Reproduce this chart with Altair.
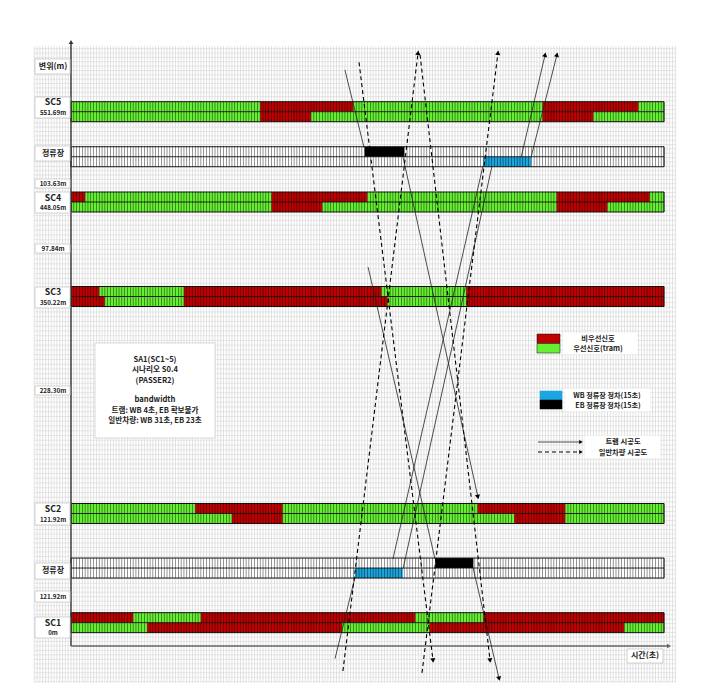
import math
import altair as alt
import pandas as pd

# ---------------- data ----------------
SIGNALS = ["SC1", "SC2", "SC3", "SC4", "SC5"]
SIGNAL_POS = [0.0, 121.92, 350.22, 448.05, 551.69]            # displacement (m)
SIGNAL_POS_LABEL = ["0m", "121.92m", "350.22m", "448.05m", "551.69m"]
STOP_POS = [61.0, 500.0]                                      # 정류장 positions (m)
GAP_LABELS = ["103.63m", "97.84m", "228.30m", "121.92m"]
T_END = 210                                                   # seconds shown

# signal phases (start s, end s, state) ; R = 비우선신호, G = 우선신호(tram)
SC1_UP = [(0, 22, "R"), (22, 46, "G"), (46, 122, "R"), (122, 146, "G"), (146, 210, "R")]
SC1_LO = [(0, 27, "G"), (27, 96, "R"), (96, 127, "G"), (127, 196, "R"), (196, 210, "G")]
SC2_UP = [(0, 44, "G"), (44, 75, "R"), (75, 144, "G"), (144, 175, "R"), (175, 210, "G")]
SC2_LO = [(0, 57, "G"), (57, 75, "R"), (75, 157, "G"), (157, 175, "R"), (175, 210, "G")]
SC3_UP = [(0, 10, "R"), (10, 40, "G"), (40, 110, "R"), (110, 140, "G"), (140, 210, "R")]
SC3_LO = [(0, 12, "R"), (12, 40, "G"), (40, 112, "R"), (112, 140, "G"), (140, 210, "R")]
SC4_UP = [(0, 5, "R"), (5, 71, "G"), (71, 105, "R"), (105, 172, "G"), (172, 205, "R"), (205, 210, "G")]
SC4_LO = [(0, 71, "G"), (71, 89, "R"), (89, 172, "G"), (172, 190, "R"), (190, 210, "G")]
SC5_UP = [(0, 67, "G"), (67, 100, "R"), (100, 167, "G"), (167, 201, "R"), (201, 210, "G")]
SC5_LO = [(0, 67, "G"), (67, 85, "R"), (85, 167, "G"), (167, 185, "R"), (185, 210, "G")]
PHASES_UP = [SC1_UP, SC2_UP, SC3_UP, SC4_UP, SC5_UP]
PHASES_LO = [SC1_LO, SC2_LO, SC3_LO, SC4_LO, SC5_LO]

# stop dwell (start s, end s, stop position m)
EB_DWELL = [(104, 118, 500.0), (129, 142.5, 61.0)]
WB_DWELL = [(146, 163, 500.0), (100.5, 117.5, 61.0)]

# trajectories: list of segments of (time s, displacement m); flag = arrow at end
TRAM_SEGS = [
    ([(97.0, 599.7), (103.8, 510.2)], False),
    ([(117.6, 499.3), (144.1, 139.3)], True),
    ([(105.2, 380.8), (128.9, 71.1)], False),
    ([(142.4, 61.0), (151.6, -62.6)], True),
    ([(93.5, -40.1), (100.6, 50.8)], False),
    ([(114.0, 71.1), (145.9, 489.5)], False),
    ([(159.4, 499.3), (167.9, 617.1)], True),
    ([(117.6, 60.4), (149.1, 489.5)], False),
    ([(162.9, 499.3), (172.1, 617.1)], True),
]
CAR_SEGS = [
    ([(102.0, 608.4), (128.2, -42.2)], True),
    ([(123.6, 617.1), (148.4, -42.2)], True),
    ([(96.3, -54.0), (122.9, 619.3)], True),
    ([(124.3, -56.1), (151.2, 619.3)], True),
]

INFO_LINES = ["SA1(SC1~5)", "시나리오 S0.4", "(PASSER2)", "", "bandwidth",
              "트램: WB 4초, EB 확보불가", "일반차량: WB 31초, EB 23초"]

# ---------------- style / layout ----------------
FONT = "Noto Sans CJK KR"
RED, GREEN, BLUE, BLACK = "#C00000", "#66F033", "#1AA7E0", "#000000"
X = alt.Scale(domain=[0, T_END], range=[71, 664], nice=False, zero=False)
Y = alt.Scale(domain=SIGNAL_POS, range=[627.5, 513.5, 296.5, 202, 107], nice=False, zero=False)
SX, SY = 593 / T_END, 0.94
ONE = alt.Data(values=[{}])


def xq(f):
    return alt.X(f, type="quantitative", scale=X, axis=None)


def yq(f):
    return alt.Y(f, type="quantitative", scale=Y, axis=None)


layers = []

# graph-paper background
gv = pd.DataFrame({"t": list(range(-13, 215)), "m0": -66.8, "m1": 627.0})
gh = pd.DataFrame({"m": list(range(-66, 627, 5)), "t0": -13.1, "t1": 214.2})
layers.append(alt.Chart(gv).mark_rule(color="#cccccc", strokeWidth=0.6).encode(
    x=xq("t"), y=yq("m0"), y2="m1"))
layers.append(alt.Chart(gh).mark_rule(color="#d6d6d6", strokeWidth=0.6).encode(
    y=yq("m"), x=xq("t0"), x2="t1"))

# bands
bands = pd.DataFrame({"pos": SIGNAL_POS + STOP_POS, "t0": 0, "t1": T_END})
stops = pd.DataFrame({"pos": STOP_POS, "t0": 0, "t1": T_END})
layers.append(alt.Chart(stops).mark_bar(orient="horizontal", size=20, color="white").encode(
    x=xq("t0"), x2="t1", y=yq("pos")))

rows_up, rows_lo = [], []
for name, pos, up, lo in zip(SIGNALS, SIGNAL_POS, PHASES_UP, PHASES_LO):
    for s, e, st in up:
        rows_up.append({"sc": name, "pos": pos, "start": s, "end": e, "state": st})
    for s, e, st in lo:
        rows_lo.append({"sc": name, "pos": pos, "start": s, "end": e, "state": st})
col = alt.Color("state:N", scale=alt.Scale(domain=["R", "G"], range=[RED, GREEN]), legend=None)
layers.append(alt.Chart(pd.DataFrame(rows_up)).mark_bar(orient="horizontal", size=10, yOffset=-5).encode(
    x=xq("start"), x2="end", y=yq("pos"), color=col))
layers.append(alt.Chart(pd.DataFrame(rows_lo)).mark_bar(orient="horizontal", size=10, yOffset=5).encode(
    x=xq("start"), x2="end", y=yq("pos"), color=col))

eb = pd.DataFrame(EB_DWELL, columns=["start", "end", "pos"])
wb = pd.DataFrame(WB_DWELL, columns=["start", "end", "pos"])
layers.append(alt.Chart(eb).mark_bar(orient="horizontal", size=10, yOffset=-5, color=BLACK).encode(
    x=xq("start"), x2="end", y=yq("pos")))
layers.append(alt.Chart(wb).mark_bar(orient="horizontal", size=10, yOffset=5, color=BLUE).encode(
    x=xq("start"), x2="end", y=yq("pos")))

# 1-second stripes inside the bands
stripes = pd.DataFrame([{"t": t, "pos": p} for p in SIGNAL_POS + STOP_POS for t in range(0, T_END + 1)])
layers.append(alt.Chart(stripes).mark_tick(orient="vertical", size=20, thickness=0.6,
                                           color="#000", opacity=0.7).encode(x=xq("t"), y=yq("pos")))
layers.append(alt.Chart(bands).mark_bar(orient="horizontal", size=20, fillOpacity=0,
                                        stroke="#111", strokeWidth=1).encode(x=xq("t0"), x2="t1", y=yq("pos")))
layers.append(alt.Chart(bands).mark_rule(color="#111", strokeWidth=0.9).encode(
    x=xq("t0"), x2="t1", y=yq("pos")))

# axes
layers.append(alt.Chart(ONE).mark_rule(color="#333", strokeWidth=1.4).encode(
    x=alt.value(71), y=alt.value(42), y2=alt.value(646)))
layers.append(alt.Chart(ONE).mark_rule(color="#666", strokeWidth=1.6).encode(
    x=alt.value(71), x2=alt.value(668), y=alt.value(646)))
layers.append(alt.Chart(ONE).mark_point(shape="triangle-up", filled=True, size=22, color="#333", opacity=1).encode(
    x=alt.value(71), y=alt.value(42)))
layers.append(alt.Chart(ONE).mark_point(shape="triangle-right", filled=True, size=22, color="#666", opacity=1).encode(
    x=alt.value(669), y=alt.value(646)))


# trajectories
def traj_frames(segs, prefix):
    rows, heads = [], []
    for k, (pts, arrow) in enumerate(segs):
        for i, (t, m) in enumerate(pts):
            rows.append({"seg": f"{prefix}{k}", "i": i, "t": t, "m": m})
        if arrow:
            (t0, m0), (t1, m1) = pts[-2], pts[-1]
            dx, dys = (t1 - t0) * SX, -(m1 - m0) * SY
            heads.append({"t": t1, "m": m1, "ang": math.degrees(math.atan2(dx, -dys)) % 360})
    return pd.DataFrame(rows), pd.DataFrame(heads)


tr, trh = traj_frames(TRAM_SEGS, "tram")
cr, crh = traj_frames(CAR_SEGS, "car")
layers.append(alt.Chart(tr).mark_line(color="#222", strokeWidth=0.8).encode(
    x=xq("t"), y=yq("m"), detail="seg:N", order="i:Q"))
layers.append(alt.Chart(cr).mark_line(color="#000", strokeWidth=1.1, strokeDash=[4, 3]).encode(
    x=xq("t"), y=yq("m"), detail="seg:N", order="i:Q"))
for hd in (trh, crh):
    layers.append(alt.Chart(hd).mark_point(shape="triangle-up", filled=True, size=26, color="#000", opacity=1).encode(
        x=xq("t"), y=yq("m"), angle=alt.Angle("ang:Q", scale=None)))


# annotation helpers (layout in pixels)
def box(x0, x1, y0, y1, fill="white", stroke="#c8c8c8", sw=0.8):
    return alt.Chart(ONE).mark_rect(fill=fill, stroke=stroke, strokeWidth=sw).encode(
        x=alt.value(x0), x2=alt.value(x1), y=alt.value(y0), y2=alt.value(y1))


def label(txt, x, y, size, bold=True, align="center", color="#222"):
    return alt.Chart(ONE).mark_text(text=txt, font=FONT, fontSize=size, align=align, baseline="middle",
                                    fontWeight="bold" if bold else "normal", color=color).encode(
        x=alt.value(x), y=alt.value(y))


# left labels
for b in [(35, 70, 59, 74), (35, 70, 97, 118), (35, 70, 146, 161), (35, 70, 179, 188), (35, 70, 192, 213),
          (35, 70, 244, 253), (35, 70, 287, 308), (35, 70, 386, 395), (35, 70, 503, 525), (35, 70, 563, 579),
          (35, 70, 591, 602), (35, 70, 617, 638), (627, 663, 649, 663)]:
    layers.append(box(*b))
layers.append(label("변위(m)", 53, 66.5, 8))
name_y = [622.5, 508.5, 292, 197.5, 102]
val_y = [633, 519.5, 302.5, 208, 112.5]
for nm, v, ny, vy in zip(SIGNALS, SIGNAL_POS_LABEL, name_y, val_y):
    layers.append(label(nm, 53, ny, 8.8))
    layers.append(label(v, 53, vy, 6.2))
for sy in [153.5, 571]:
    layers.append(label("정류장", 53, sy, 8))
for g, gy in zip(GAP_LABELS, [183.5, 248.5, 390.5, 596.5]):
    layers.append(label(g, 53, gy, 6.3))
layers.append(label("시간(초)", 645, 656, 8))

# info box
layers.append(box(95, 215, 343, 438, stroke="#d0d0d0"))
for txt, ly in zip(INFO_LINES, [359.5, 370, 380.5, 390, 400, 410.5, 421]):
    if txt:
        layers.append(label(txt, 155, ly, 7.6))

# legend
layers.append(box(563, 637, 333, 354, stroke="white"))
layers.append(box(537, 560, 334, 343.5, fill=RED, stroke="#111", sw=0.5))
layers.append(box(537, 560, 343.5, 353, fill=GREEN, stroke="#111", sw=0.5))
layers.append(label("비우선신호", 598, 338.5, 7.3))
layers.append(label("우선신호(tram)", 598, 348.5, 7.3))
layers.append(box(565, 650, 389, 411, stroke="white"))
layers.append(box(540, 562, 391, 400, fill=BLUE, stroke=BLUE, sw=0.5))
layers.append(box(540, 562, 400, 409, fill=BLACK, stroke=BLACK, sw=0.5))
layers.append(label("WB 정류장 정차(15초)", 607, 395.5, 7.1))
layers.append(label("EB 정류장 정차(15초)", 608, 405.5, 7.1))
layers.append(box(585, 660, 436, 458, stroke="white"))
layers.append(alt.Chart(ONE).mark_rule(color="#222", strokeWidth=0.8).encode(
    x=alt.value(538), x2=alt.value(580), y=alt.value(442)))
layers.append(alt.Chart(ONE).mark_rule(color="#000", strokeWidth=1.1, strokeDash=[4, 3]).encode(
    x=alt.value(538), x2=alt.value(580), y=alt.value(452)))
for ay in (442, 452):
    layers.append(alt.Chart(ONE).mark_point(shape="triangle-right", filled=True, size=18, color="#000",
                                            opacity=1).encode(x=alt.value(581), y=alt.value(ay)))
layers.append(label("트램 시공도", 623, 442, 7.3))
layers.append(label("일반차량 시공도", 623, 452.5, 7.3))

chart = alt.LayerChart(layer=layers).properties(
    width=712, height=700, padding=0, background="white",
    autosize=alt.AutoSizeParams(type="none"),
).configure_view(stroke=None)

chart.save("out.html", embed_options={"renderer": "svg", "actions": False})
